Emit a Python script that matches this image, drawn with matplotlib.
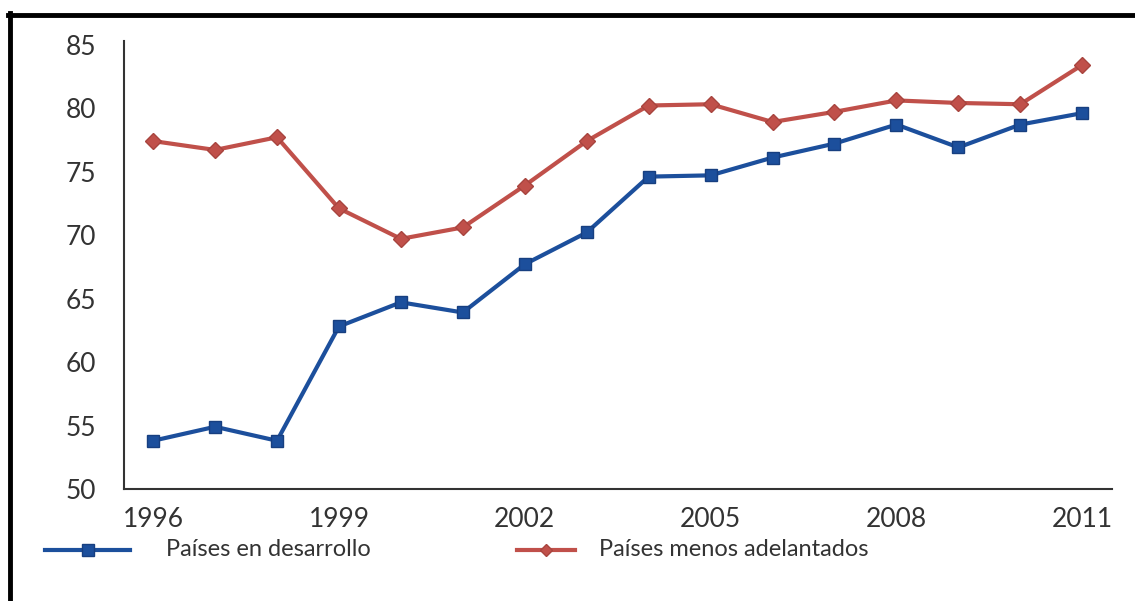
import matplotlib
matplotlib.use("Agg")
from matplotlib import pyplot as plt
from matplotlib.lines import Line2D

years = list(range(1996, 2012))
desarrollo = [53.8, 54.9, 53.8, 62.8, 64.7, 63.9, 67.7, 70.2,
              74.6, 74.7, 76.1, 77.2, 78.7, 76.9, 78.7, 79.6]
menos_adelantados = [77.4, 76.7, 77.7, 72.1, 69.7, 70.6, 73.9, 77.4,
                     80.2, 80.3, 78.9, 79.7, 80.6, 80.4, 80.3, 83.4]
xticks = [1996, 1999, 2002, 2005, 2008, 2011]
yticks = [50, 55, 60, 65, 70, 75, 80, 85]
labels = ["Países en desarrollo", "Países menos adelantados"]

plt.rcParams["font.family"] = ["Lato", "DejaVu Sans"]

W, H = 1135, 601
fig = plt.figure(figsize=(W / 100, H / 100), dpi=100)
ax = fig.add_axes([124 / W, 1 - 489 / H, (1112 - 124) / W, (489 - 41) / H])

blue = "#1c4f9c"
red = "#c0504a"
ax.plot(years, desarrollo, color=blue, lw=3, marker="s", ms=9,
        mec="#173f80")
ax.plot(years, menos_adelantados, color=red, lw=3, marker="D", ms=8,
        mec="#a8443e")

ax.set_xlim(1995.53, 2011.48)
ax.set_ylim(50, 85.28)
ax.set_xticks(xticks)
ax.set_yticks(yticks)
ax.tick_params(length=0, labelsize=19, colors="#333333")
ax.tick_params(axis="x", pad=13)
ax.tick_params(axis="y", pad=20)
for s in ["top", "right"]:
    ax.spines[s].set_visible(False)
for s in ["left", "bottom"]:
    ax.spines[s].set_color("#333333")
    ax.spines[s].set_linewidth(1.5)

# legend keys drawn by hand in figure pixels
ly = 1 - 550 / H
fig.add_artist(Line2D([45 / W, 88 / W, 130 / W], [ly] * 3, color=blue, lw=3,
                      marker="s", ms=8, mec="#173f80", markevery=[1],
                      transform=fig.transFigure))
fig.add_artist(Line2D([517 / W, 546 / W, 575 / W], [ly] * 3, color=red, lw=3,
                      marker="D", ms=6, mec="#a8443e", markevery=[1],
                      transform=fig.transFigure))
fig.text(166 / W, ly, labels[0], fontsize=17, color="#333333", va="center")
fig.text(599 / W, ly, labels[1], fontsize=17, color="#333333", va="center")

# black frame on top and left
fig.add_artist(Line2D([8 / W, 1], [1 - 15 / H, 1 - 15 / H], color="black", lw=3.5,
                      transform=fig.transFigure))
fig.add_artist(Line2D([10 / W, 10 / W], [0, 1 - 13 / H], color="black", lw=3.5,
                      transform=fig.transFigure))

fig.savefig("out.png", dpi=100)
